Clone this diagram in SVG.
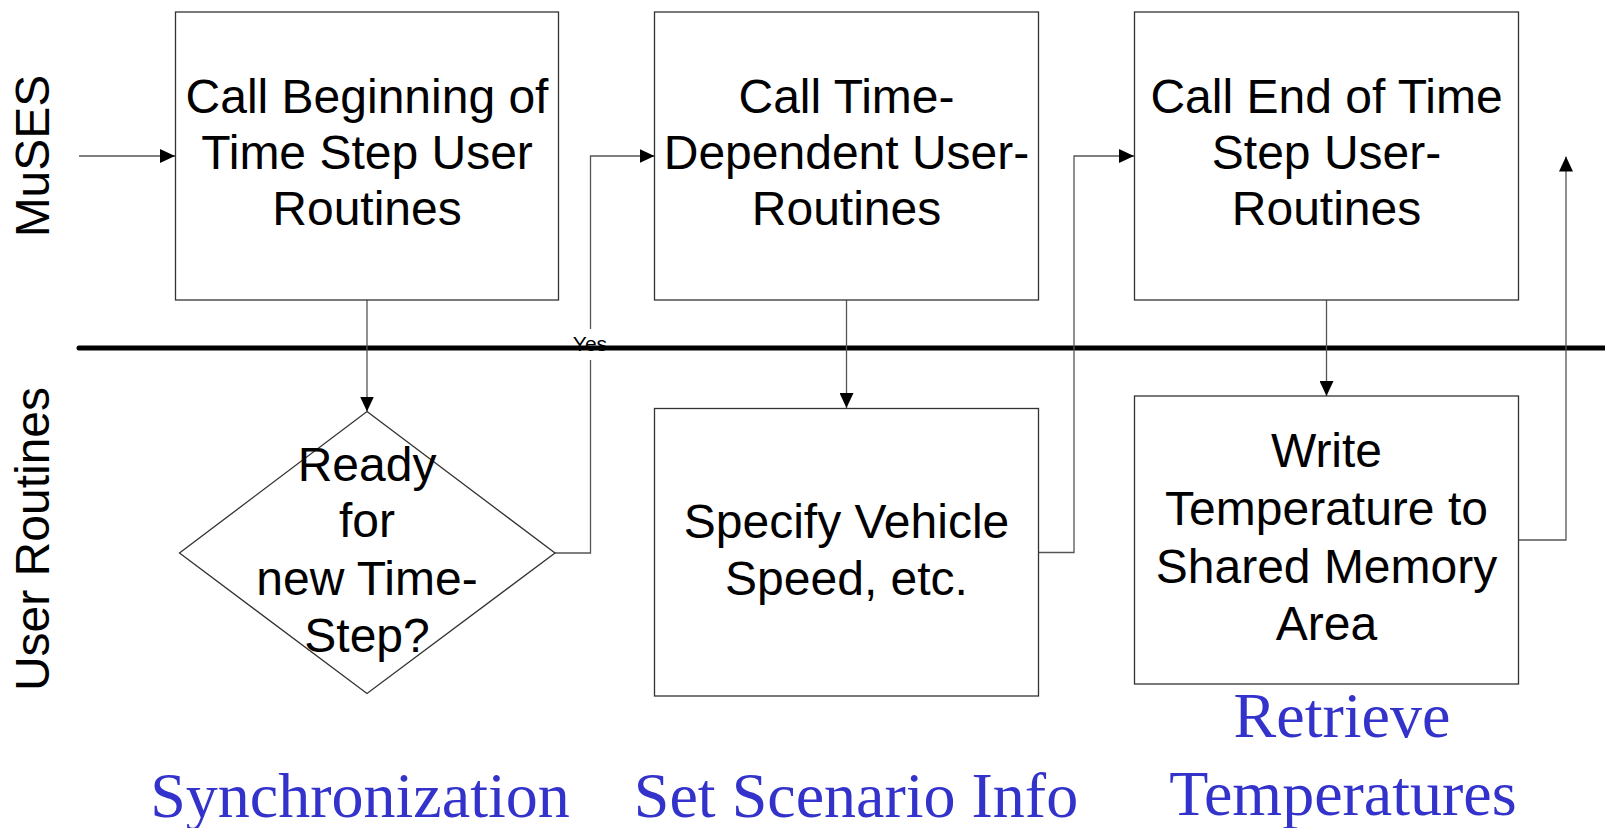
<svg xmlns="http://www.w3.org/2000/svg" width="1605" height="828" viewBox="0 0 1605 828">
<style>
.box{fill:#fff;stroke:#333;stroke-width:1.3}
.t{font-family:"Liberation Sans",Arial,sans-serif;font-size:48px;fill:#000;text-anchor:middle}
.lane{font-family:"Liberation Sans",Arial,sans-serif;font-size:48px;fill:#000;text-anchor:middle}
.cap{font-family:"Liberation Serif","Times New Roman",serif;font-size:64px;fill:#3333CC;text-anchor:middle}
.c{fill:none;stroke:#555;stroke-width:1.3}
.yes{font-family:"Liberation Sans",Arial,sans-serif;font-size:21px;fill:#000;text-anchor:middle}
</style>
<defs>
<marker id="ah" viewBox="0 0 15 14" refX="15" refY="7" markerWidth="15" markerHeight="14" orient="auto" markerUnits="userSpaceOnUse">
<path d="M0,0 L15,7 L0,14 z" fill="#000"/>
</marker>
</defs>
<rect width="1605" height="828" fill="#fff"/>

<g id="lanes">
<text class="lane" transform="translate(49,156) rotate(-90)">MuSES</text>
<text class="lane" transform="translate(49,539) rotate(-90)">User Routines</text>
<path d="M79,348 H1605" stroke="#000" stroke-width="5" stroke-linecap="round" fill="none"/>
</g>

<g id="connectors">
<path class="c" d="M79,156 H175" marker-end="url(#ah)"/>
<path class="c" d="M367,300 V411.5" marker-end="url(#ah)"/>
<path class="c" d="M555,553 H590.5 V360"/>
<path class="c" d="M590.5,329 V156 H654.5" marker-end="url(#ah)"/>
<path class="c" d="M846.5,300 V408" marker-end="url(#ah)"/>
<path class="c" d="M1038.5,552.5 H1074 V156 H1134" marker-end="url(#ah)"/>
<path class="c" d="M1326.5,300 V396" marker-end="url(#ah)"/>
<path class="c" d="M1518.5,540 H1566 V156.5" marker-end="url(#ah)"/>
<text class="yes" x="590" y="351">Yes</text>
</g>

<g id="node-begin">
<rect class="box" x="175.5" y="12" width="383" height="288"/>
<text class="t" x="367" y="113">Call Beginning of</text>
<text class="t" x="367" y="169">Time Step User</text>
<text class="t" x="367" y="225">Routines</text>
</g>

<g id="node-timedep">
<rect class="box" x="654.5" y="12" width="384" height="288"/>
<text class="t" x="846.5" y="113">Call Time-</text>
<text class="t" x="846.5" y="169">Dependent User-</text>
<text class="t" x="846.5" y="225">Routines</text>
</g>

<g id="node-end">
<rect class="box" x="1134.5" y="12" width="384" height="288"/>
<text class="t" x="1326.5" y="113">Call End of Time</text>
<text class="t" x="1326.5" y="169">Step User-</text>
<text class="t" x="1326.5" y="225">Routines</text>
</g>

<g id="node-ready">
<path class="box" d="M367,411.5 L555,553 L367,693.5 L179.5,553 z"/>
<text class="t" x="367" y="481">Ready</text>
<text class="t" x="367" y="537">for</text>
<text class="t" x="367" y="595">new Time-</text>
<text class="t" x="367" y="652">Step?</text>
</g>

<g id="node-specify">
<rect class="box" x="654.5" y="408.5" width="384" height="287.5"/>
<text class="t" x="846.5" y="538">Specify Vehicle</text>
<text class="t" x="846.5" y="595">Speed, etc.</text>
</g>

<g id="node-write">
<rect class="box" x="1134.5" y="396" width="384" height="288"/>
<text class="t" x="1326.5" y="467">Write</text>
<text class="t" x="1326.5" y="525">Temperature to</text>
<text class="t" x="1326.5" y="583">Shared Memory</text>
<text class="t" x="1326.5" y="640">Area</text>
</g>

<g id="captions">
<text class="cap" x="360" y="817">Synchronization</text>
<text class="cap" x="856" y="817">Set Scenario Info</text>
<text class="cap" x="1342" y="737">Retrieve</text>
<text class="cap" x="1343" y="815">Temperatures</text>
</g>
</svg>
